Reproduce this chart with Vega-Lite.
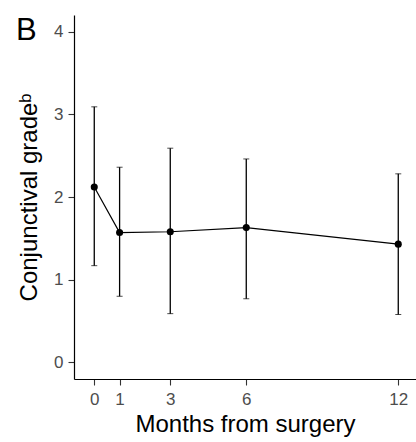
{
  "$schema": "https://vega.github.io/schema/vega-lite/v6.json",
  "width": 342,
  "height": 364,
  "autosize": {"type": "none"},
  "padding": {"left": 74, "top": 15, "right": 0, "bottom": 63},
  "background": "white",
  "title": {"text": "B", "anchor": "start", "frame": "group", "dx": -58, "dy": 36, "fontSize": 31, "fontWeight": "normal", "font": "Liberation Sans", "color": "black"},
  "config": {
    "view": {"stroke": null},
    "axis": {"grid": false, "domainColor": "black", "domainWidth": 1.2, "tickColor": "#333333", "tickWidth": 1.1, "tickSize": 6, "labelFont": "Liberation Sans", "labelFontSize": 17, "labelColor": "#4D4D4D", "titleFont": "Liberation Sans", "titleFontSize": 24, "titleFontWeight": "normal", "titleColor": "black"}
  },
  "data": {"values": [
    {"month": 0, "mean": 2.12, "lo": 1.17, "hi": 3.09},
    {"month": 1, "mean": 1.57, "lo": 0.80, "hi": 2.36},
    {"month": 3, "mean": 1.58, "lo": 0.59, "hi": 2.59},
    {"month": 6, "mean": 1.63, "lo": 0.77, "hi": 2.46},
    {"month": 12, "mean": 1.43, "lo": 0.58, "hi": 2.28}
  ]},
  "layer": [
    {
      "mark": {"type": "errorbar", "ticks": {"size": 6, "color": "black", "strokeWidth": 1.3}, "rule": {"color": "black", "strokeWidth": 1.3}},
      "encoding": {
        "x": {"field": "month", "type": "quantitative", "scale": {"domain": [-0.8, 12.7], "nice": false, "zero": false}, "axis": {"values": [0, 1, 3, 6, 12], "format": "d", "title": "Months from surgery", "titlePadding": 5, "labelPadding": 6}},
        "y": {"field": "lo", "type": "quantitative", "scale": {"domain": [-0.2, 4.2], "nice": false, "zero": false}, "axis": {"values": [0, 1, 2, 3, 4], "format": "d", "title": "Conjunctival gradeᵇ", "titlePadding": 12, "labelPadding": 5}},
        "y2": {"field": "hi"}
      }
    },
    {
      "mark": {"type": "line", "color": "black", "strokeWidth": 1.2},
      "encoding": {
        "x": {"field": "month", "type": "quantitative"},
        "y": {"field": "mean", "type": "quantitative"}
      }
    },
    {
      "mark": {"type": "point", "filled": true, "color": "black", "opacity": 1, "size": 50},
      "encoding": {
        "x": {"field": "month", "type": "quantitative"},
        "y": {"field": "mean", "type": "quantitative"}
      }
    }
  ]
}
